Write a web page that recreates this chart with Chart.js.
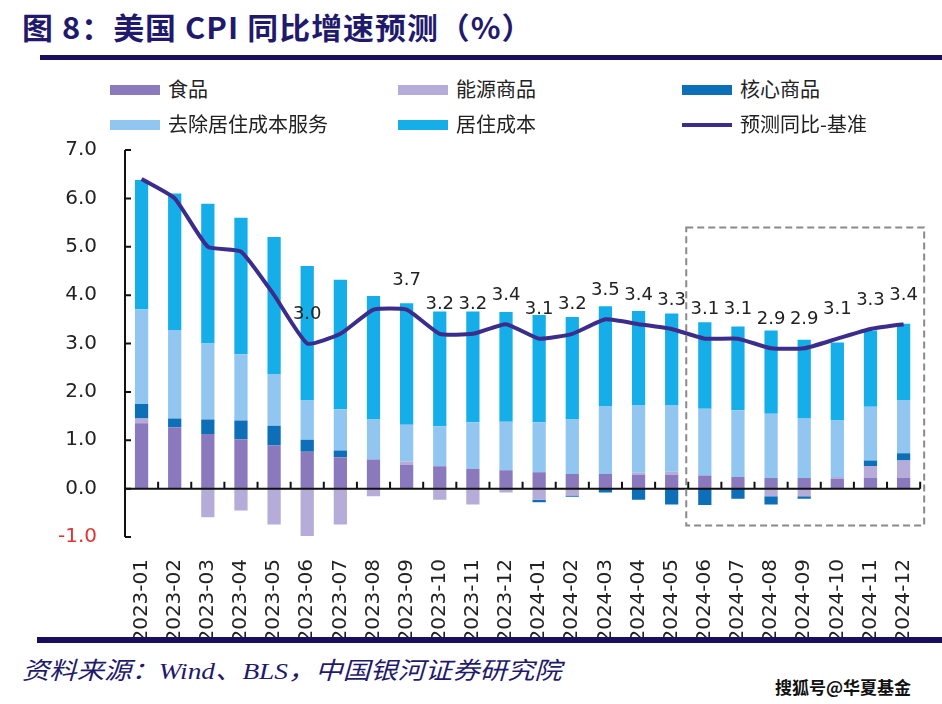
<!DOCTYPE html>
<html>
<head>
<meta charset="utf-8">
<script src="https://cdn.jsdelivr.net/npm/chart.js@4.4.1/dist/chart.umd.min.js"></script>
<style>
  html,body{margin:0;padding:0;background:#fff;}
  body{width:942px;height:704px;position:relative;overflow:hidden;font-family:"Noto Sans CJK SC","Noto Sans",sans-serif;}
  .title{position:absolute;left:22px;top:4px;font-size:30px;font-weight:bold;color:#1f1a6b;white-space:nowrap;letter-spacing:1px;transform:scaleX(1.03);transform-origin:left;}
  .rule{position:absolute;left:40px;right:0;background:#1a0f5e;}
  .legend{position:absolute;font-size:20px;color:#222;white-space:nowrap;}
  .legend .sw{display:inline-block;width:50px;height:10px;vertical-align:middle;margin-right:8px;position:relative;top:-2px;}
  .legend .ln{height:4px;}
  .footer{position:absolute;left:22px;top:651px;font-size:24px;font-style:italic;color:#1f1a6b;white-space:nowrap;font-family:"Liberation Serif","Noto Sans CJK SC",serif;transform:scaleX(1.14);transform-origin:left;}
  .mark{position:absolute;left:775px;top:674px;font-size:17px;font-weight:bold;color:#111;white-space:nowrap;}
  #wrap{position:absolute;left:0;top:110px;width:942px;height:530px;}
</style>
</head>
<body>
<div class="title">图 8：美国 CPI 同比增速预测（%）</div>
<div class="rule" style="top:55px;height:5px;"></div>
<div id="wrap"><canvas id="c" width="942" height="530"></canvas></div>
<div id="legend"></div>
<div class="rule" style="top:637px;height:6px;left:37px;"></div>
<div class="footer">资料来源：Wind、BLS，中国银河证券研究院</div>
<div class="mark">搜狐号@华夏基金</div>
<script>
// categories (monthly)
const months = ['2023-01','2023-02','2023-03','2023-04','2023-05','2023-06','2023-07','2023-08','2023-09','2023-10','2023-11','2023-12',
                '2024-01','2024-02','2024-03','2024-04','2024-05','2024-06','2024-07','2024-08','2024-09','2024-10','2024-11','2024-12'];

// contributions, percentage points
const food     = [1.35,1.27,1.13,1.02,0.89,0.76,0.65,0.60,0.49,0.46,0.41,0.38,0.34,0.30,0.30,0.28,0.28,0.27,0.24,0.22,0.22,0.20,0.22,0.22];
const energy   = [0.10,0,-0.59,-0.45,-0.74,-0.98,-0.74,-0.16,0.07,-0.23,-0.33,-0.08,-0.23,-0.14,0,0.05,0.07,0,0,-0.16,-0.16,0.04,0.25,0.36];
const core     = [0.30,0.18,0.30,0.39,0.41,0.25,0.14,0,0,0,0,0,-0.05,-0.03,-0.08,-0.23,-0.33,-0.34,-0.21,-0.17,-0.05,0,0.11,0.15];
const services = [1.96,1.83,1.57,1.37,1.07,0.81,0.85,0.83,0.76,0.83,0.96,1.00,1.03,1.13,1.41,1.40,1.38,1.38,1.38,1.33,1.24,1.17,1.11,1.10];
const shelter  = [2.67,2.82,2.89,2.82,2.83,2.78,2.68,2.55,2.51,2.37,2.29,2.27,2.22,2.12,2.06,1.94,1.89,1.79,1.73,1.72,1.62,1.61,1.58,1.58];
// headline forecast, yoy %
const forecast = [6.4,6.0,5.0,4.9,4.0,3.0,3.2,3.7,3.7,3.2,3.2,3.4,3.1,3.2,3.5,3.4,3.3,3.1,3.1,2.9,2.9,3.1,3.3,3.4];
// which points carry a value label
const showLabel = [0,0,0,0,0,1,0,0,1,1,1,1,1,1,1,1,1,1,1,1,1,1,1,1];

const yTicks = [-1,0,1,2,3,4,5,6,7];

const series = [
  {name:'食品', data:food, color:'#8a79bd'},
  {name:'能源商品', data:energy, color:'#b5acd9'},
  {name:'核心商品', data:core, color:'#0e6fb9'},
  {name:'去除居住成本服务', data:services, color:'#90c6f0'},
  {name:'居住成本', data:shelter, color:'#16aee8'}
];
const lineName = '预测同比-基准', lineColor = '#3c2c8c';

// legend: 3 columns x 2 rows like the original
function renderLegend(){
  const box=document.getElementById('legend');
  const cols=[110,398,682], rows=[74,109];
  const items=series.map(s=>({name:s.name,color:s.color,line:false})).concat([{name:lineName,color:lineColor,line:true}]);
  items.forEach((it,i)=>{
    const d=document.createElement('div'); d.className='legend';
    d.style.left=cols[i%3]+'px'; d.style.top=rows[Math.floor(i/3)]+'px';
    d.innerHTML=`<span class="sw${it.line?' ln':''}" style="background:${it.color}"></span>${it.name}`;
    box.appendChild(d);
  });
}

// axes lines, inner ticks, value labels and the forecast box
const decor = {
  id:'decor',
  afterDatasetsDraw(chart){
    const {ctx, chartArea:a, scales:{x,y}} = chart;
    const y0 = y.getPixelForValue(0);
    ctx.save();
    ctx.strokeStyle='#111'; ctx.lineWidth=2;
    // y axis + inward ticks
    ctx.beginPath();
    ctx.moveTo(a.left, y.getPixelForValue(7)); ctx.lineTo(a.left, y.getPixelForValue(-1));
    yTicks.forEach(v=>{const py=y.getPixelForValue(v); ctx.moveTo(a.left,py); ctx.lineTo(a.left+6,py);});
    ctx.stroke();
    // zero line + category boundary ticks
    ctx.beginPath();
    ctx.moveTo(a.left,y0); ctx.lineTo(a.right,y0);
    for(let i=1;i<=months.length;i++){
      const px = i<months.length ? (x.getPixelForValue(i-1)+x.getPixelForValue(i))/2 : a.right;
      ctx.moveTo(px,y0); ctx.lineTo(px,y0-7);
    }
    ctx.stroke();
    // value labels on the forecast line
    const meta = chart.getDatasetMeta(0);
    ctx.fillStyle='#222'; ctx.font='18px "DejaVu Sans"'; ctx.textAlign='center'; ctx.textBaseline='middle';
    meta.data.forEach((pt,i)=>{ if(showLabel[i]) ctx.fillText(forecast[i].toFixed(1), pt.x, pt.y-29); });
    // dashed box around the forecast months
    const bx0 = (x.getPixelForValue(16)+x.getPixelForValue(17))/2 - 2;
    const bx1 = a.right + 4;
    ctx.strokeStyle='#8a8a8a'; ctx.lineWidth=2; ctx.setLineDash([7,4]);
    ctx.strokeRect(bx0, y.getPixelForValue(5.4), bx1-bx0, y.getPixelForValue(-0.76)-y.getPixelForValue(5.4));
    ctx.restore();
  }
};

function renderChart(){
  const datasets=[{
    type:'line', label:lineName, data:forecast, stack:'line', order:0,
    borderColor:lineColor, borderWidth:4, pointRadius:0, tension:0.15, fill:false
  }].concat(series.map(s=>({
    type:'bar', label:s.name, data:s.data, stack:'bars', order:1,
    backgroundColor:s.color, barPercentage:0.4, categoryPercentage:1
  })));
  new Chart(document.getElementById('c'),{
    data:{labels:months,datasets:datasets},
    options:{
      responsive:false, animation:false, devicePixelRatio:1,
      layout:{padding:{top:0,right:19,bottom:0,left:0}},
      plugins:{legend:{display:false},tooltip:{enabled:false}},
      scales:{
        x:{stacked:true, grid:{display:false}, border:{display:false},
           afterFit(s){s.height=103;},
           ticks:{autoSkip:false,maxRotation:90,minRotation:90,padding:14,color:'#222',font:{family:'DejaVu Sans',size:20}}},
        y:{stacked:true, min:-1, max:7, grid:{display:false,drawTicks:false}, border:{display:false},
           afterFit(s){s.width=125;},
           afterBuildTicks(s){s.ticks=yTicks.map(v=>({value:v}));},
           ticks:{padding:28,color:c=>c.tick.value<0?'#e03535':'#222',font:{family:'DejaVu Sans',size:20},
                  callback:v=>v.toFixed(1)}}
      }
    },
    plugins:[decor]
  });
}

renderLegend();
renderChart();
</script>
</body>
</html>
